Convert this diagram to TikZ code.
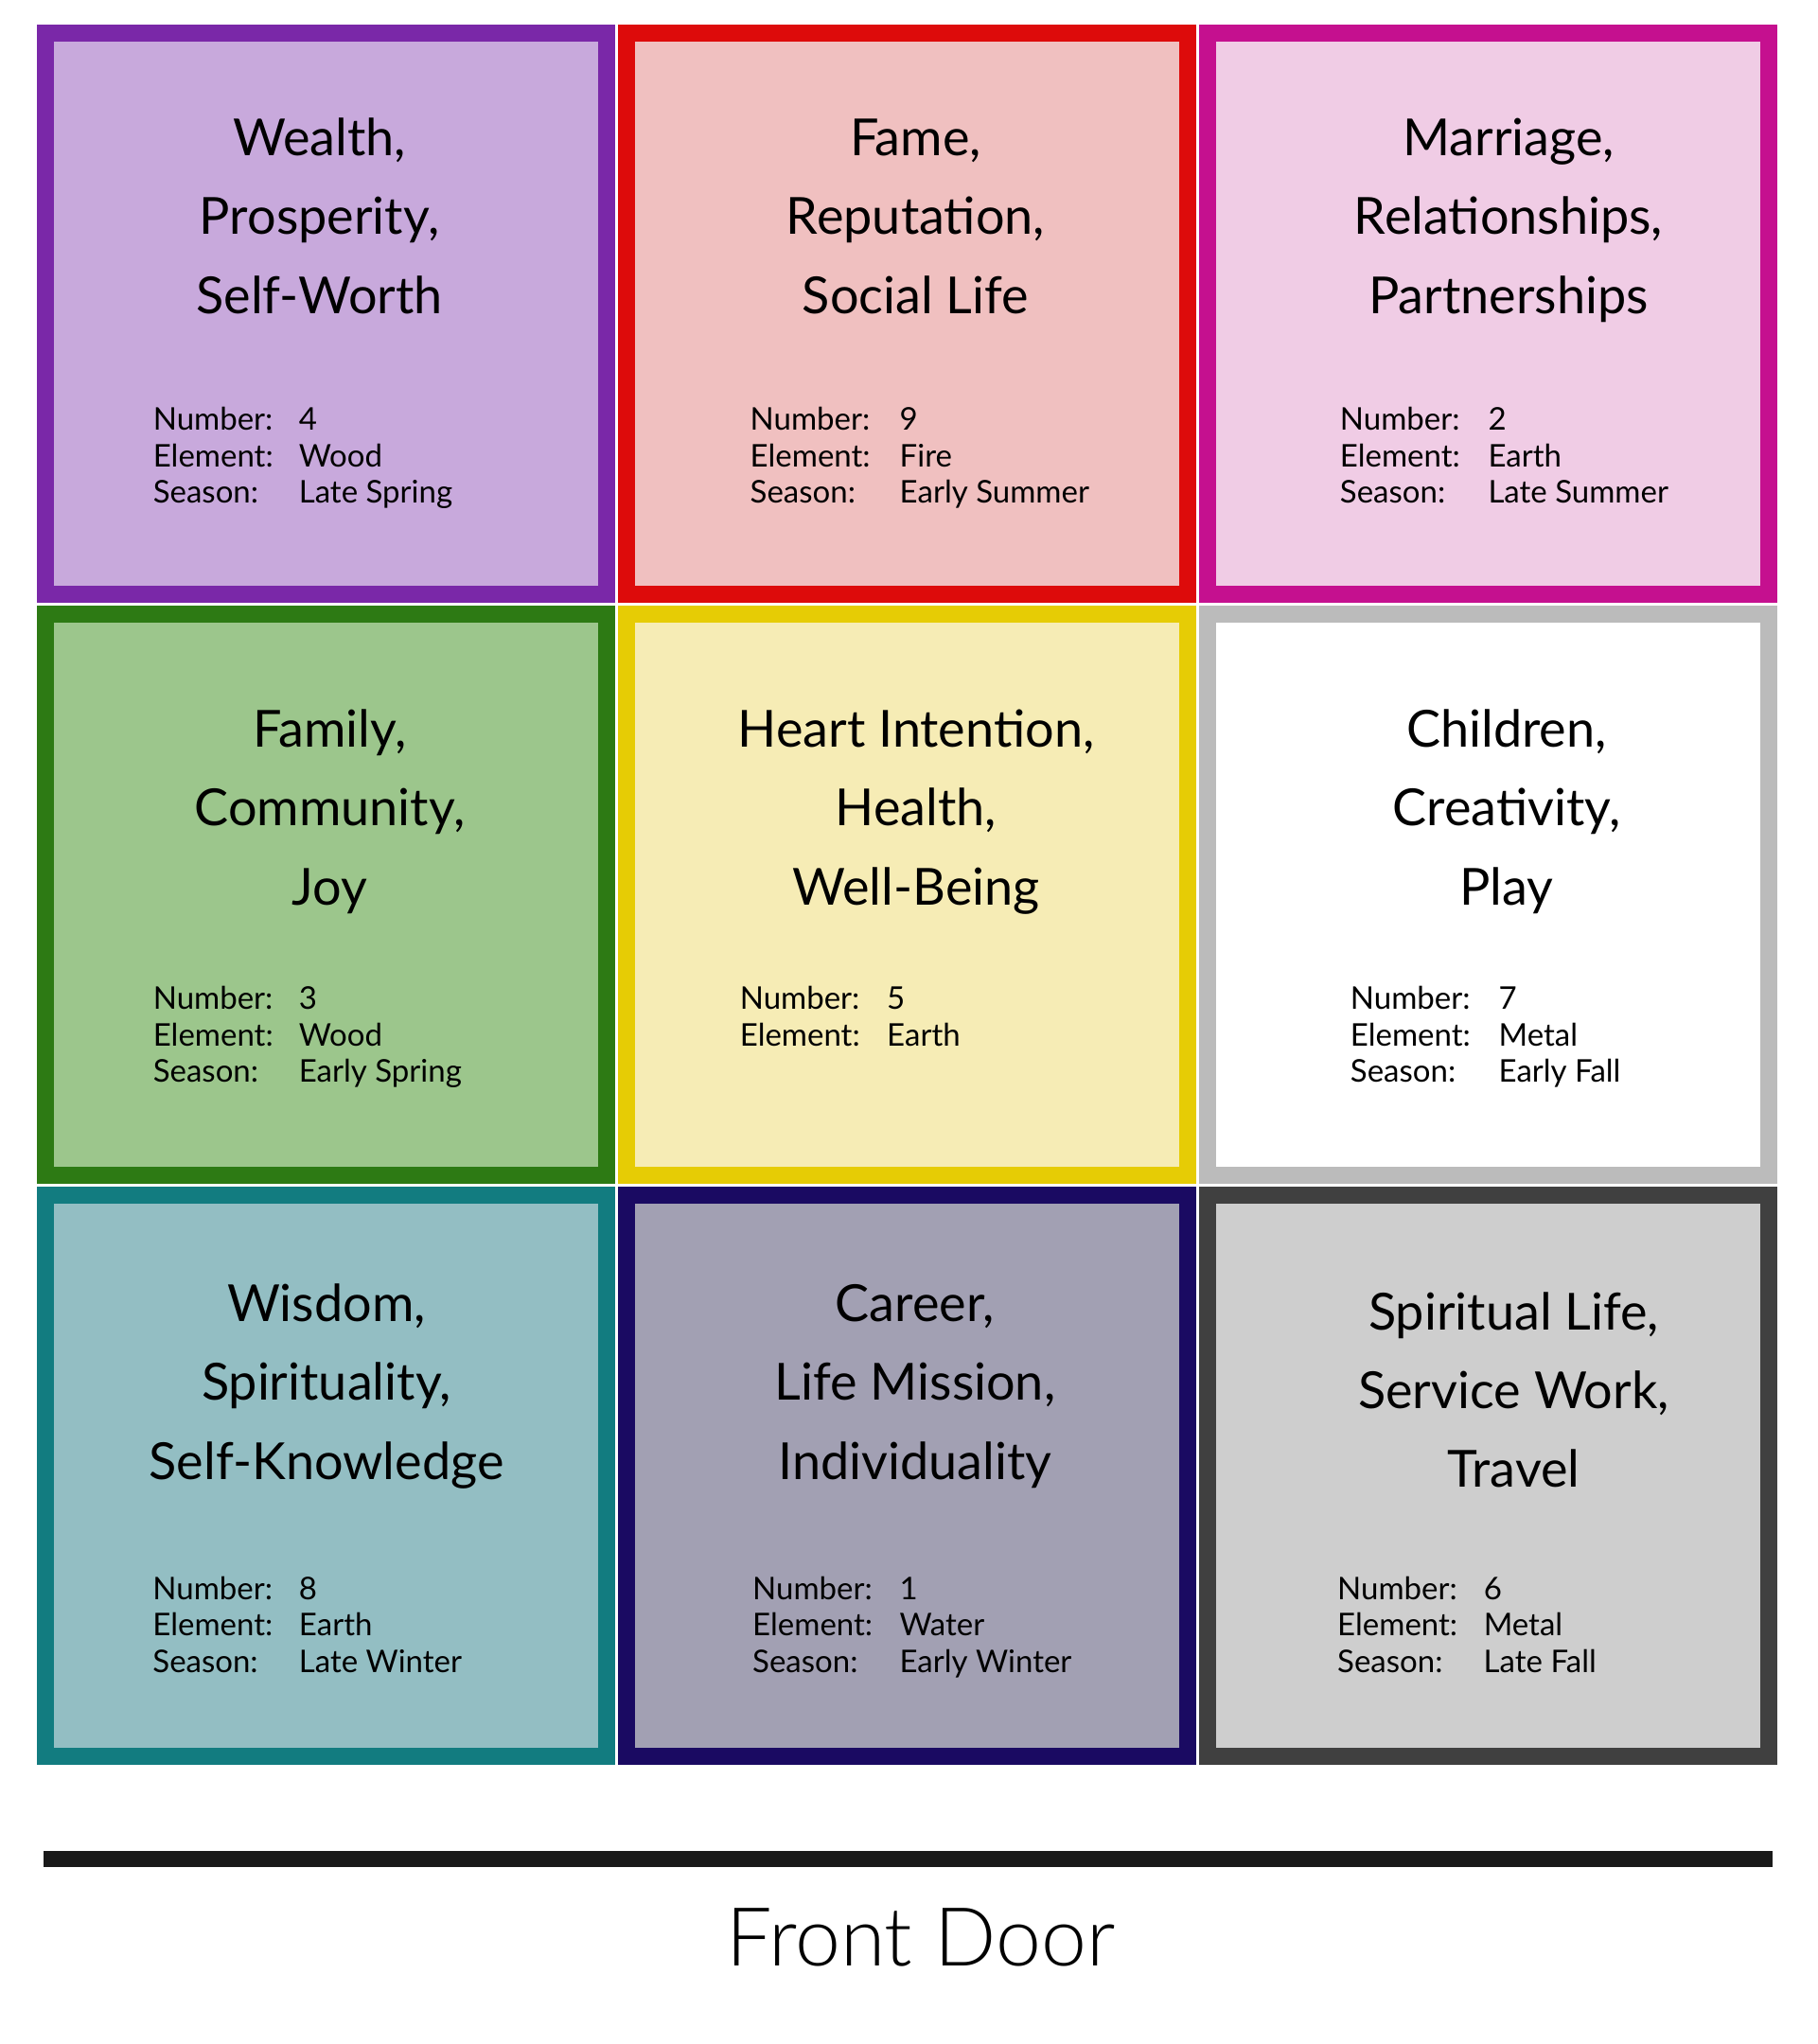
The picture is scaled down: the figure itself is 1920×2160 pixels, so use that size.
\documentclass[tikz,border=0pt]{standalone}
\usepackage{fontspec}
\setmainfont{Lato}
\newfontfamily\latolight{Lato Light}
\definecolor{purpB}{HTML}{7A28A8}\definecolor{purpF}{HTML}{C8A9DC}
\definecolor{redB}{HTML}{DD0B0B}\definecolor{redF}{HTML}{F0C0C0}
\definecolor{magB}{HTML}{C5108F}\definecolor{magF}{HTML}{F0CCE5}
\definecolor{grnB}{HTML}{2D7A14}\definecolor{grnF}{HTML}{9CC68C}
\definecolor{yelB}{HTML}{E6CC05}\definecolor{yelF}{HTML}{F6ECB5}
\definecolor{lgrB}{HTML}{BBBBBB}\definecolor{lgrF}{HTML}{FFFFFF}
\definecolor{tealB}{HTML}{127C80}\definecolor{tealF}{HTML}{93BEC3}
\definecolor{navB}{HTML}{1A0A62}\definecolor{navF}{HTML}{A2A0B3}
\definecolor{dgrB}{HTML}{404040}\definecolor{dgrF}{HTML}{CECECE}
\definecolor{lineC}{HTML}{1A1A1A}
\tikzset{
  cell/.style={draw, line width=18pt, minimum width=593pt, minimum height=593pt, inner sep=0pt, outer sep=9pt, anchor=north west},
  ttl/.style={anchor=base, inner sep=0pt, font=\fontsize{54}{80}\selectfont, text=black},
  inf/.style={anchor=base west, inner sep=0pt, font=\fontsize{33}{38}\selectfont, text=black},
  door/.style={anchor=base, inner sep=0pt, font=\latolight\fontsize{86}{100}\selectfont, text=black},
  doorline/.style={line width=17.6pt, draw=lineC}
}
\newcommand\ttlblk[6]{%
  \node[ttl] (#1a) at (#2,#3) {#4};
  \node[ttl] (#1b) at (#2,#3+83.3) {#5};
  \node[ttl] (#1c) at (#2,#3+166.6) {#6};}
\newcommand\infoblk[7]{%
  \node[inf] (#1n) at (#2,#3) {\makebox[#4pt][l]{Number:}#5};
  \node[inf] (#1e) at (#2,#3+38.6) {\makebox[#4pt][l]{Element:}#6};
  \node[inf] (#1s) at (#2,#3+77.2) {\makebox[#4pt][l]{Season:}#7};}
\begin{document}
\begin{tikzpicture}[x=1pt,y=-1pt]
\useasboundingbox (0,0) rectangle (1920,2160);
\fill[white] (0,0) rectangle (1920,2160);
% cells (anchor = outer corner)
\node[cell, draw=purpB, fill=purpF] (c1) at (38.5,26) {};
\node[cell, draw=redB,  fill=redF]  (c2) at (652.5,26) {};
\node[cell, draw=magB,  fill=magF]  (c3) at (1266.5,26) {};
\node[cell, draw=grnB,  fill=grnF]  (c4) at (38.5,640) {};
\node[cell, draw=yelB,  fill=yelF]  (c5) at (652.5,640) {};
\node[cell, draw=lgrB,  fill=lgrF]  (c6) at (1266.5,640) {};
\node[cell, draw=tealB, fill=tealF] (c7) at (38.5,1254) {};
\node[cell, draw=navB,  fill=navF]  (c8) at (652.5,1254) {};
\node[cell, draw=dgrB,  fill=dgrF]  (c9) at (1266.5,1254) {};
% titles
\ttlblk{t1}{337.5}{164.5}{Wealth,}{Prosperity,}{Self-Worth}
\ttlblk{t2}{967.5}{164.5}{Fame,}{Reputation,}{Social Life}
\ttlblk{t3}{1594}{164.5}{Marriage,}{Relationships,}{Partnerships}
\ttlblk{t4}{348.4}{789.5}{Family,}{Community,}{Joy}
\ttlblk{t5}{968}{789.5}{Heart Intention,}{Health,}{Well-Being}
\ttlblk{t6}{1592}{789.5}{Children,}{Creativity,}{Play}
\ttlblk{t7}{345}{1396.5}{Wisdom,}{Spirituality,}{Self-Knowledge}
\ttlblk{t8}{967}{1396.5}{Career,}{Life Mission,}{Individuality}
\ttlblk{t9}{1599.5}{1405}{Spiritual Life,}{Service Work,}{Travel}
% info
\infoblk{i1}{161.6}{454.4}{154}{4}{Wood}{Late Spring}
\infoblk{i2}{792.5}{454.4}{158}{9}{Fire}{Early Summer}
\infoblk{i3}{1415.7}{454.4}{156.6}{2}{Earth}{Late Summer}
\infoblk{i4}{161.6}{1066.5}{154}{3}{Wood}{Early Spring}
\node[inf] (i5n) at (781.6,1066.5) {\makebox[155.4pt][l]{Number:}5};
\node[inf] (i5e) at (781.6,1105.1) {\makebox[155.4pt][l]{Element:}Earth};
\infoblk{i6}{1426.7}{1066.5}{156.7}{7}{Metal}{Early Fall}
\infoblk{i7}{161.2}{1690}{154.5}{8}{Earth}{Late Winter}
\infoblk{i8}{795}{1690}{155.3}{1}{Water}{Early Winter}
\infoblk{i9}{1413}{1690}{154.5}{6}{Metal}{Late Fall}
% front door
\coordinate (dl) at (46,1964.5);
\coordinate (dr) at (1873,1964.5);
\draw[doorline] (dl) -- (dr);
\node[door] (fd) at (973,2077) {Front Door};
\end{tikzpicture}
\end{document}
